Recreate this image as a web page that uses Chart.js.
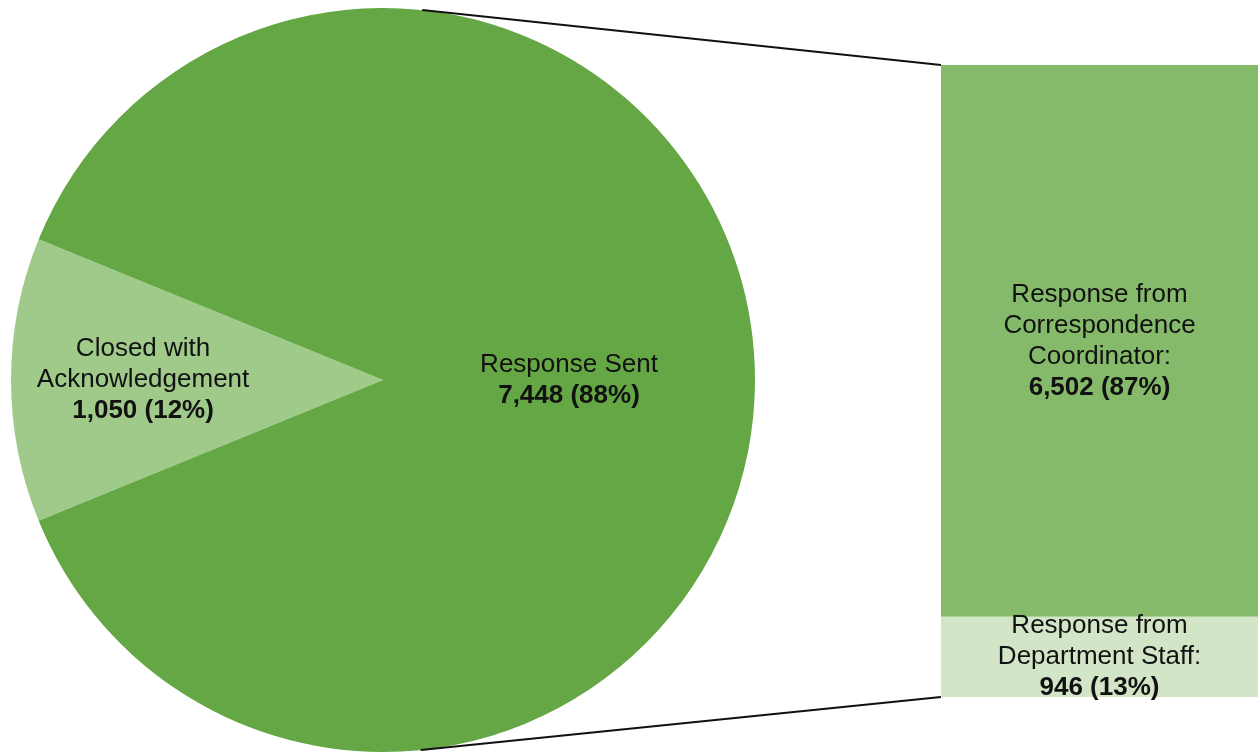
<!DOCTYPE html>
<html>
<head>
<meta charset="utf-8">
<script src="https://cdn.jsdelivr.net/npm/chart.js@4"></script>
<style>
  body { margin: 0; background: #fff; }
  #wrap { position: relative; width: 1260px; height: 755px; }
  #wrap canvas { position: absolute; left: 0; top: 0; }
</style>
</head>
<body>
<div id="wrap">
  <canvas id="pieChart" width="1260" height="755"></canvas>
  <canvas id="barChart" width="1260" height="755"></canvas>
</div>
<script>
// de data
var pieLabels = ['Closed with Acknowledgement', 'Response Sent'];
var pieValues = [1050, 7448];
var pieText = [['Closed with', 'Acknowledgement', '1,050 (12%)'], ['Response Sent', '7,448 (88%)']];

var barLabels = ['Response from Department Staff', 'Response from Correspondence Coordinator'];
var barValues = [946, 6502];
var barText = [['Response from', 'Department Staff:', '946 (13%)'], ['Response from', 'Correspondence', 'Coordinator:', '6,502 (87%)']];

var fontFamily = '"Liberation Sans", Arial, sans-serif';
var fontSize = 26;
var lineHeight = 31;

// tekst in meerdere regels, laatste regel vet
function drawLines(ctx, lines, x, y) {
    ctx.save();
    ctx.fillStyle = '#111';
    ctx.textAlign = 'center';
    ctx.textBaseline = 'middle';
    var top = y - (lines.length - 1) * lineHeight / 2;
    for (var i = 0; i < lines.length; i++) {
        var bold = i == lines.length - 1;
        ctx.font = (bold ? 'bold ' : '') + fontSize + 'px ' + fontFamily;
        ctx.fillText(lines[i], x, top + i * lineHeight);
    }
    ctx.restore();
}

// De pie chart
var pieTotal = pieValues[0] + pieValues[1];
var labelRadius = [0.645, 0.5];
var pieLabelPlugin = {
    id: 'pieLabels',
    afterDraw: function (chart) {
        var meta = chart.getDatasetMeta(0);
        meta.data.forEach(function (arc, i) {
            var mid = (arc.startAngle + arc.endAngle) / 2;
            var r = arc.outerRadius * labelRadius[i];
            drawLines(chart.ctx, pieText[i], arc.x + Math.cos(mid) * r, arc.y + Math.sin(mid) * r);
        });
    }
};

var pieChart = new Chart(document.getElementById('pieChart'), {
    type: 'pie',
    data: {
        labels: pieLabels,
        datasets: [{
            data: pieValues,
            backgroundColor: ['#a0ca8a', '#64a744'],
            borderWidth: 0
        }]
    },
    options: {
        responsive: false,
        animation: false,
        // kleine slice links gecentreerd
        rotation: 270 - (pieValues[0] / pieTotal) * 180,
        layout: { padding: { left: 11, right: 505, top: 8, bottom: 3 } },
        plugins: { legend: { display: false }, tooltip: { enabled: false } }
    },
    plugins: [pieLabelPlugin]
});

// lijnen van de pie naar de bar (raaklijnen)
function tangentPoint(cx, cy, r, px, py, side) {
    var dx = px - cx, dy = py - cy;
    var d = Math.sqrt(dx * dx + dy * dy);
    var a = Math.atan2(dy, dx) + side * Math.acos(r / d);
    return { x: cx + Math.cos(a) * r, y: cy + Math.sin(a) * r };
}

var connectorPlugin = {
    id: 'connectors',
    afterDraw: function (chart) {
        var arc = pieChart.getDatasetMeta(0).data[0];
        var low = chart.getDatasetMeta(0).data[0];
        var high = chart.getDatasetMeta(1).data[0];
        var left = high.x - high.width / 2;
        var ctx = chart.ctx;
        var p1 = tangentPoint(arc.x, arc.y, arc.outerRadius, left, high.y, -1);
        var p2 = tangentPoint(arc.x, arc.y, arc.outerRadius, left, low.base, 1);
        ctx.save();
        ctx.strokeStyle = '#111';
        ctx.lineWidth = 2;
        ctx.beginPath();
        ctx.moveTo(p1.x, p1.y);
        ctx.lineTo(left, high.y);
        ctx.moveTo(p2.x, p2.y);
        ctx.lineTo(left, low.base);
        ctx.stroke();
        ctx.restore();

        // tekst in de bar
        for (var i = 0; i < 2; i++) {
            var bar = chart.getDatasetMeta(i).data[0];
            drawLines(ctx, barText[i], bar.x, (bar.y + bar.base) / 2);
        }
    }
};

// De stacked bar
var barChart = new Chart(document.getElementById('barChart'), {
    type: 'bar',
    data: {
        labels: ['Response Sent'],
        datasets: [{
            label: barLabels[0],
            data: [barValues[0]],
            backgroundColor: '#d2e5c7',
            borderWidth: 0,
            barPercentage: 1,
            categoryPercentage: 1
        }, {
            label: barLabels[1],
            data: [barValues[1]],
            backgroundColor: '#84ba69',
            borderWidth: 0,
            barPercentage: 1,
            categoryPercentage: 1
        }]
    },
    options: {
        responsive: false,
        animation: false,
        layout: { padding: { left: 941, right: 2, top: 65, bottom: 58 } },
        scales: {
            x: { stacked: true, display: false },
            y: { stacked: true, display: false, min: 0, max: barValues[0] + barValues[1] }
        },
        plugins: { legend: { display: false }, tooltip: { enabled: false } }
    },
    plugins: [connectorPlugin]
});
</script>
</body>
</html>
